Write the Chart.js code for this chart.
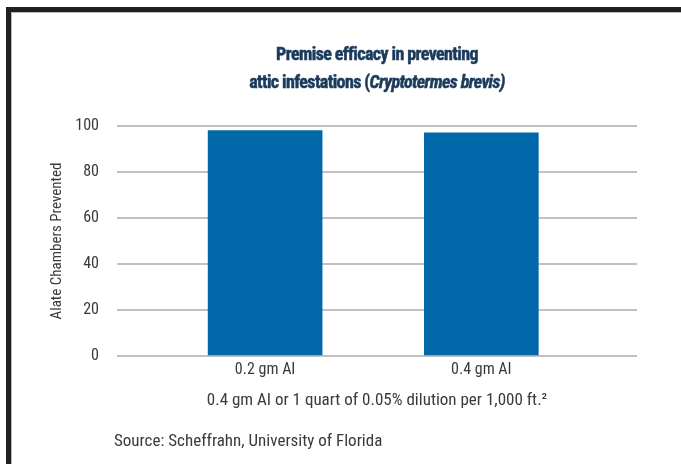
<!DOCTYPE html>
<html>
<head>
<meta charset="utf-8">
<script src="https://cdn.jsdelivr.net/npm/chart.js@4/dist/chart.umd.min.js"></script>
<style>
  html, body { margin: 0; padding: 0; background: #ffffff; }
  #wrap { position: relative; width: 681px; height: 464px; overflow: hidden; background: #fff; }
  #frame { position: absolute; left: 6px; top: 7px; right: 0; bottom: 0;
           border-left: 5px solid #231f20; border-top: 5px solid #231f20;
           box-shadow: inset 1px 1px 0 #b8b8b8; }
  #chart { position: absolute; left: 0; top: 0; }
  .txt { position: absolute; font-family: "Roboto Condensed", "DejaVu Sans Condensed", sans-serif; }
  #title { left: 0; width: 754px; top: 40px; text-align: center; color: #1b3a5c;
           font-weight: bold; font-size: 18px; line-height: 28px; letter-spacing: -0.6px;
           -webkit-text-stroke: 0.5px #1b3a5c; }
  #source { left: 114px; top: 430px; color: #3a3a3a; font-size: 17px; line-height: 20px; }
</style>
</head>
<body>
<div id="wrap">
  <div id="frame"></div>
  <canvas id="chart" width="681" height="464"></canvas>
  <div id="title" class="txt">Premise efficacy in preventing<br>attic infestations (<i>Cryptotermes brevis)</i></div>
  <div id="source" class="txt">Source: Scheffrahn, University of Florida</div>
</div>
<script>
const categories = ["0.2 gm AI", "0.4 gm AI"];
const values = [98, 97];
const yTicks = [0, 20, 40, 60, 80, 100];
const yTitle = "Alate Chambers Prevented";
const xTitle = "0.4 gm AI or 1 quart of 0.05% dilution per 1,000 ft.\u00B2";

const FONT = '"Roboto Condensed", "DejaVu Sans Condensed", sans-serif';
const textColor = "#3a3a3a";

new Chart(document.getElementById("chart"), {
  type: "bar",
  data: {
    datasets: [{
      data: values.map((v, i) => ({ x: i + 1, y: v })),
      backgroundColor: "#0068a8",
      borderWidth: 0,
      barThickness: 114
    }]
  },
  options: {
    responsive: false,
    animation: false,
    layout: { padding: { left: 0, right: 44, top: 126, bottom: 53.5 } },
    plugins: { legend: { display: false }, tooltip: { enabled: false }, title: { display: false } },
    scales: {
      x: {
        type: "linear",
        offset: false,
        min: 0.315,
        max: 2.72,
        grid: { display: false, drawTicks: false },
        border: { display: false },
        afterBuildTicks: s => { s.ticks = categories.map((c, i) => ({ value: i + 1 })); },
        ticks: {
          padding: 4,
          color: textColor,
          font: { family: FONT, size: 16 },
          callback: v => categories[v - 1]
        },
        title: {
          display: true,
          text: xTitle,
          color: textColor,
          font: { family: FONT, size: 17 },
          padding: { top: 7, bottom: 0 }
        }
      },
      y: {
        min: 0,
        max: 100,
        afterFit: s => { s.width = 117; },
        afterBuildTicks: s => { s.ticks = yTicks.map(v => ({ value: v })); },
        grid: { color: "#c0c0c5", lineWidth: 2, drawTicks: false },
        border: { display: false },
        ticks: {
          padding: 18,
          color: textColor,
          font: { family: FONT, size: 16 }
        },
        title: {
          display: true,
          text: yTitle,
          color: textColor,
          font: { family: FONT, size: 15 },
          padding: { top: 48, bottom: 0 }
        }
      }
    }
  }
});
</script>
</body>
</html>
